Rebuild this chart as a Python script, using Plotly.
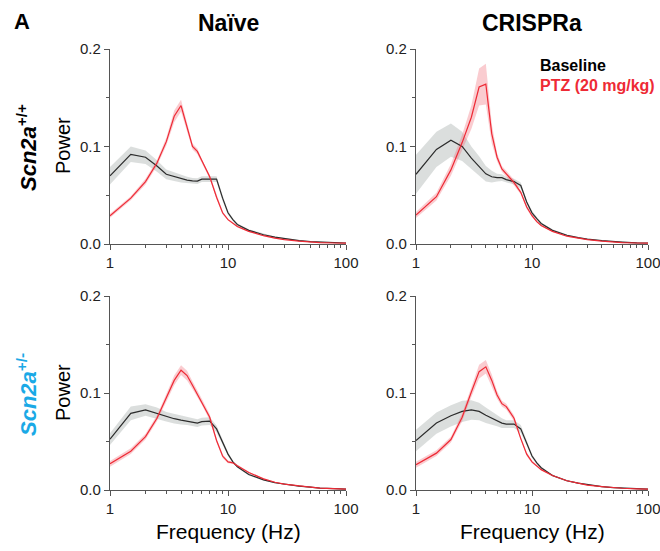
import plotly.graph_objects as go

# ---------------- data ----------------
freq = [1, 1.5, 2, 2.5, 3, 3.5, 4, 4.5, 5, 5.5, 6, 7, 8, 9, 10, 11, 12, 15, 20, 25, 30, 40, 50, 60, 80, 100]

# Naive, Scn2a+/+
naive_wt_base = [0.070, 0.092, 0.089, 0.080, 0.0715, 0.069, 0.067, 0.0655, 0.0648, 0.0645, 0.0665, 0.0667, 0.0665, 0.047, 0.032, 0.025, 0.020, 0.014, 0.0095, 0.007, 0.0055, 0.0035, 0.0025, 0.002, 0.0012, 0.001]
naive_wt_base_sem = [0.009, 0.008, 0.007, 0.006, 0.005, 0.0045, 0.004, 0.0035, 0.003, 0.003, 0.003, 0.003, 0.003, 0.003, 0.002, 0.0015, 0.001, 0.001, 0.001, 0.0008, 0.0006, 0.0005, 0.0004, 0.0003, 0.0003, 0.0003]
naive_wt_ptz = [0.029, 0.047, 0.064, 0.083, 0.105, 0.131, 0.142, 0.119, 0.100, 0.095, 0.085, 0.069, 0.048, 0.032, 0.025, 0.021, 0.018, 0.013, 0.0085, 0.006, 0.0045, 0.003, 0.002, 0.0015, 0.001, 0.0008]
naive_wt_ptz_sem = [0.002, 0.002, 0.003, 0.003, 0.004, 0.006, 0.006, 0.004, 0.003, 0.003, 0.002, 0.002, 0.002, 0.0015, 0.001, 0.001, 0.001, 0.0008, 0.0006, 0.0005, 0.0004, 0.0003, 0.0003, 0.0003, 0.0003, 0.0003]

# CRISPRa, Scn2a+/+
cr_wt_base = [0.0715, 0.097, 0.1065, 0.100, 0.088, 0.080, 0.072, 0.069, 0.068, 0.068, 0.066, 0.064, 0.060, 0.043, 0.032, 0.026, 0.021, 0.014, 0.009, 0.0065, 0.005, 0.0035, 0.0025, 0.002, 0.0012, 0.001]
cr_wt_base_sem = [0.02, 0.018, 0.017, 0.015, 0.012, 0.010, 0.008, 0.006, 0.004, 0.0035, 0.003, 0.003, 0.003, 0.002, 0.002, 0.0015, 0.001, 0.001, 0.0008, 0.0006, 0.0005, 0.0004, 0.0003, 0.0003, 0.0003, 0.0003]
cr_wt_ptz = [0.0297, 0.0485, 0.076, 0.104, 0.130, 0.161, 0.164, 0.113, 0.089, 0.077, 0.072, 0.063, 0.053, 0.038, 0.029, 0.023, 0.019, 0.013, 0.008, 0.006, 0.0045, 0.003, 0.002, 0.0015, 0.001, 0.0008]
cr_wt_ptz_sem = [0.003, 0.004, 0.006, 0.008, 0.012, 0.019, 0.021, 0.010, 0.004, 0.003, 0.003, 0.003, 0.002, 0.002, 0.0015, 0.001, 0.001, 0.0008, 0.0006, 0.0005, 0.0004, 0.0003, 0.0003, 0.0003, 0.0003, 0.0003]

# Naive, Scn2a+/-
naive_het_base = [0.0524, 0.079, 0.0825, 0.079, 0.0755, 0.0735, 0.072, 0.071, 0.070, 0.069, 0.0705, 0.071, 0.063, 0.049, 0.037, 0.029, 0.024, 0.016, 0.0105, 0.0075, 0.006, 0.004, 0.003, 0.002, 0.0015, 0.001]
naive_het_base_sem = [0.006, 0.007, 0.006, 0.006, 0.005, 0.005, 0.0045, 0.004, 0.004, 0.004, 0.004, 0.004, 0.0035, 0.003, 0.002, 0.0015, 0.001, 0.001, 0.0008, 0.0006, 0.0005, 0.0004, 0.0003, 0.0003, 0.0003, 0.0003]
naive_het_ptz = [0.027, 0.040, 0.055, 0.074, 0.095, 0.113, 0.1235, 0.118, 0.108, 0.099, 0.091, 0.075, 0.051, 0.035, 0.029, 0.028, 0.025, 0.018, 0.0115, 0.008, 0.006, 0.004, 0.003, 0.002, 0.0014, 0.001]
naive_het_ptz_sem = [0.003, 0.003, 0.003, 0.003, 0.004, 0.005, 0.005, 0.005, 0.004, 0.004, 0.003, 0.003, 0.002, 0.002, 0.0015, 0.001, 0.001, 0.0008, 0.0006, 0.0005, 0.0004, 0.0003, 0.0003, 0.0003, 0.0003, 0.0003]

# CRISPRa, Scn2a+/-
cr_het_base = [0.051, 0.069, 0.0765, 0.081, 0.0825, 0.081, 0.077, 0.074, 0.0716, 0.069, 0.068, 0.068, 0.063, 0.049, 0.035, 0.028, 0.023, 0.015, 0.0095, 0.007, 0.0055, 0.0035, 0.0025, 0.002, 0.0013, 0.001]
cr_het_base_sem = [0.011, 0.011, 0.011, 0.011, 0.010, 0.009, 0.008, 0.007, 0.006, 0.005, 0.004, 0.004, 0.004, 0.003, 0.002, 0.0015, 0.001, 0.001, 0.0008, 0.0006, 0.0005, 0.0004, 0.0003, 0.0003, 0.0003, 0.0003]
cr_het_ptz = [0.026, 0.038, 0.052, 0.075, 0.101, 0.122, 0.127, 0.113, 0.098, 0.089, 0.086, 0.074, 0.053, 0.037, 0.029, 0.025, 0.021, 0.015, 0.0095, 0.007, 0.005, 0.0035, 0.0025, 0.0018, 0.0012, 0.0009]
cr_het_ptz_sem = [0.003, 0.003, 0.003, 0.004, 0.005, 0.007, 0.007, 0.006, 0.004, 0.003, 0.003, 0.003, 0.002, 0.002, 0.0015, 0.001, 0.001, 0.0008, 0.0006, 0.0005, 0.0004, 0.0003, 0.0003, 0.0003, 0.0003, 0.0003]

col_titles = ["Naïve", "CRISPRa"]
row_labels = ["<b><i>Scn2a</i><sup>+/+</sup></b>", "<b><i>Scn2a</i><sup>+/-</sup></b>"]
y_ticks = [0, 0.1, 0.2]
y_ticklabels = ["0.0", "0.1", "0.2"]
x_ticks = [1, 10, 100]
x_ticklabels = ["1", "10", "100"]
legend_labels = ["Baseline", "PTZ (20 mg/kg)"]

# ---------------- styling ----------------
W, H = 660, 551
FONT = "Arial, Liberation Sans, sans-serif"
BLACK_LINE = "#2b2b2b"
BLACK_FILL = "rgba(175,182,180,0.45)"
RED_LINE = "#ee2a35"
RED_FILL = "rgba(240,110,120,0.35)"
AXIS_COL = "#555555"
BLUE = "#1aa9e6"

x_dom = [[110 / W, 346 / W], [416 / W, 648 / W]]
y_dom = [[1 - 244 / H, 1 - 49 / H], [1 - 490 / H, 1 - 296 / H]]

panels = [
    (naive_wt_base, naive_wt_base_sem, naive_wt_ptz, naive_wt_ptz_sem),
    (cr_wt_base, cr_wt_base_sem, cr_wt_ptz, cr_wt_ptz_sem),
    (naive_het_base, naive_het_base_sem, naive_het_ptz, naive_het_ptz_sem),
    (cr_het_base, cr_het_base_sem, cr_het_ptz, cr_het_ptz_sem),
]

fig = go.Figure()
minor_x = [2, 3, 4, 5, 6, 7, 8, 9, 20, 30, 40, 50, 60, 70, 80, 90]

for i, (b, bs, p, ps) in enumerate(panels):
    r, c = divmod(i, 2)
    n = i + 1
    xa = "x" if n == 1 else f"x{n}"
    ya = "y" if n == 1 else f"y{n}"
    for mean, sem, lc, fc in [(b, bs, BLACK_LINE, BLACK_FILL), (p, ps, RED_LINE, RED_FILL)]:
        upper = [m + s for m, s in zip(mean, sem)]
        lower = [max(m - s, 0) for m, s in zip(mean, sem)]
        fig.add_trace(go.Scatter(
            x=freq + freq[::-1], y=upper + lower[::-1], fill="toself",
            fillcolor=fc, line=dict(width=0), mode="lines", hoverinfo="skip",
            showlegend=False, xaxis=xa, yaxis=ya))
    for mean, lc in [(b, BLACK_LINE), (p, RED_LINE)]:
        fig.add_trace(go.Scatter(
            x=freq, y=mean, mode="lines", line=dict(color=lc, width=1.2),
            showlegend=False, xaxis=xa, yaxis=ya))

    xkey = "xaxis" if n == 1 else f"xaxis{n}"
    ykey = "yaxis" if n == 1 else f"yaxis{n}"
    fig.layout[xkey] = dict(
        type="log", range=[0, 2], domain=x_dom[c], anchor=ya, automargin=False,
        ticklabeloverflow="allow",
        showline=True, linecolor=AXIS_COL, linewidth=1.2, showgrid=False, zeroline=False,
        ticks="outside", ticklen=5, tickcolor=AXIS_COL, tickwidth=1,
        tickvals=x_ticks, ticktext=x_ticklabels,
        tickfont=dict(family=FONT, size=15, color="#222"),
        minor=dict(tickvals=minor_x, ticks="outside", ticklen=3, tickcolor=AXIS_COL, showgrid=False),
    )
    fig.layout[ykey] = dict(
        range=[0, 0.2], domain=y_dom[r], anchor=xa, automargin=False,
        showline=True, linecolor=AXIS_COL, linewidth=1.2, showgrid=False, zeroline=False,
        ticks="outside", ticklen=5, tickcolor=AXIS_COL, tickwidth=1,
        tickvals=y_ticks, ticktext=y_ticklabels,
        tickfont=dict(family=FONT, size=15, color="#222"),
        minor=dict(tickvals=[0.05, 0.15], ticks="outside", ticklen=3, tickcolor=AXIS_COL, showgrid=False),
    )

ann = []
# panel letter
ann.append(dict(text="<b>A</b>", x=22 / W, y=1 - 22 / H, xref="paper", yref="paper",
                showarrow=False, xanchor="center", yanchor="middle",
                font=dict(family=FONT, size=22, color="#000")))
# column titles
for cx, t in zip([228, 532], col_titles):
    ann.append(dict(text=f"<b>{t}</b>", x=cx / W, y=1 - 23 / H, xref="paper", yref="paper",
                    showarrow=False, xanchor="center", yanchor="middle",
                    font=dict(family=FONT, size=23, color="#000")))
# row labels and Power labels
for cy, lab, col in zip([148, 395], row_labels, ["#000", BLUE]):
    ann.append(dict(text=lab, x=27 / W, y=1 - cy / H, xref="paper", yref="paper",
                    showarrow=False, textangle=-90, xanchor="center", yanchor="middle",
                    font=dict(family=FONT, size=22, color=col)))
for cy in [146, 393]:
    ann.append(dict(text="Power", x=63 / W, y=1 - cy / H, xref="paper", yref="paper",
                    showarrow=False, textangle=-90, xanchor="center", yanchor="middle",
                    font=dict(family=FONT, size=20, color="#000")))
# x-axis titles
for cx in [228, 532]:
    ann.append(dict(text="Frequency (Hz)", x=cx / W, y=1 - 531 / H, xref="paper", yref="paper",
                    showarrow=False, xanchor="center", yanchor="middle",
                    font=dict(family=FONT, size=21, color="#000")))
# legend text
for ly, lab, col in zip([65, 85], legend_labels, ["#000", RED_LINE]):
    ann.append(dict(text=f"<b>{lab}</b>", x=538 / W, y=1 - ly / H, xref="paper", yref="paper",
                    showarrow=False, xanchor="left", yanchor="middle",
                    font=dict(family=FONT, size=16, color=col)))

fig.update_layout(
    width=W, height=H, margin=dict(l=0, r=0, t=0, b=0),
    paper_bgcolor="white", plot_bgcolor="white",
    annotations=ann, showlegend=False,
)

fig.write_html("out.html", config={"displayModeBar": False},
               post_script="document.body.style.margin='0';document.body.style.overflow='hidden';")
